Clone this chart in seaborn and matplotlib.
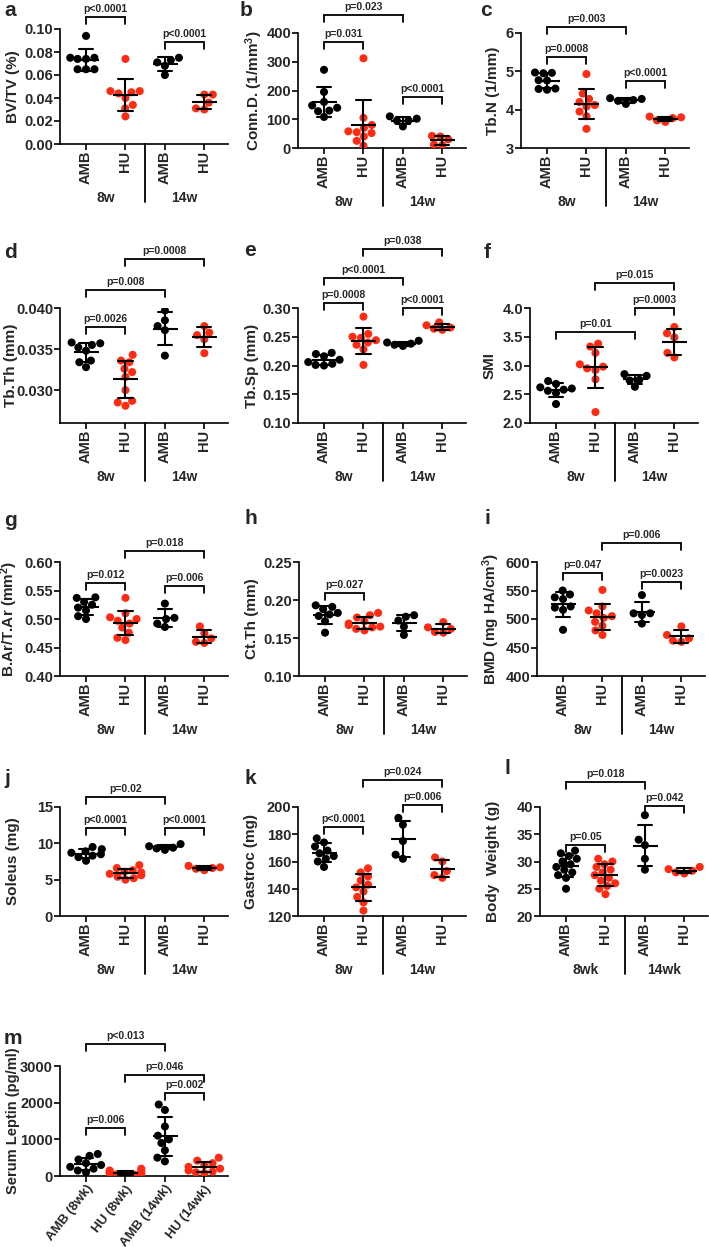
import matplotlib
matplotlib.use('Agg')
import matplotlib.pyplot as plt
import matplotlib.transforms as mtransforms
import numpy as np
import pandas as pd
import seaborn as sns

sns.set_theme(style='ticks')
plt.rcParams['font.family'] = ['Liberation Sans', 'DejaVu Sans']
plt.rcParams['font.weight'] = 'bold'
plt.rcParams['axes.labelweight'] = 'bold'
plt.rcParams['mathtext.fontset'] = 'custom'
plt.rcParams['mathtext.bf'] = 'Liberation Sans:bold'
plt.rcParams['mathtext.rm'] = 'Liberation Sans:bold'
plt.rcParams['mathtext.default'] = 'bf'

# Groupes
groups = ['AMB 8w', 'HU 8w', 'AMB 14w', 'HU 14w']
tick_labels = ['AMB', 'HU', 'AMB', 'HU']
leptin_labels = ['AMB (8wk)', 'HU (8wk)', 'AMB (14wk)', 'HU (14wk)']
RED = '#FF2A12'
palette = {'AMB 8w': 'black', 'HU 8w': RED, 'AMB 14w': 'black', 'HU 14w': RED}

# Valeurs (AMB 8w, HU 8w, AMB 14w, HU 14w)
bv_tv = [[0.094, 0.075, 0.074, 0.075, 0.074, 0.065, 0.065, 0.065],
         [0.074, 0.046, 0.045, 0.046, 0.044, 0.040, 0.034, 0.031, 0.024],
         [0.075, 0.073, 0.071, 0.068, 0.060],
         [0.043, 0.043, 0.036, 0.030, 0.031]]
conn_d = [[272, 195, 160, 148, 140, 130, 128, 108],
          [312, 105, 80, 70, 58, 55, 52, 40, 25, 8],
          [110, 102, 96, 95, 75],
          [42, 40, 30, 12, 10]]
tb_n = [[4.97, 4.95, 4.96, 4.77, 4.76, 4.55, 4.52, 4.54],
        [4.93, 4.42, 4.28, 4.20, 4.12, 4.08, 3.95, 3.83, 3.50],
        [4.30, 4.28, 4.25, 4.23, 4.15],
        [3.82, 3.80, 3.78, 3.72, 3.68]]
tb_th = [[0.0358, 0.0357, 0.0355, 0.0352, 0.0348, 0.0336, 0.0334, 0.0328],
         [0.0343, 0.0336, 0.0334, 0.0326, 0.0322, 0.0316, 0.0300, 0.0287, 0.0285, 0.0281],
         [0.0397, 0.0385, 0.0378, 0.0373, 0.0342],
         [0.0378, 0.0370, 0.0367, 0.0362, 0.0345]]
tb_sp = [[0.222, 0.220, 0.216, 0.210, 0.206, 0.203, 0.201, 0.200],
         [0.285, 0.255, 0.250, 0.248, 0.244, 0.240, 0.236, 0.228, 0.201],
         [0.243, 0.240, 0.238, 0.236, 0.234],
         [0.275, 0.270, 0.266, 0.264, 0.262]]
smi = [[2.73, 2.68, 2.62, 2.60, 2.58, 2.56, 2.52, 2.33],
       [3.38, 3.33, 3.22, 3.02, 2.98, 2.95, 2.92, 2.76, 2.19],
       [2.85, 2.82, 2.75, 2.74, 2.63],
       [3.67, 3.56, 3.49, 3.22, 3.14]]
b_ar = [[0.538, 0.537, 0.530, 0.525, 0.520, 0.515, 0.505, 0.500],
        [0.537, 0.510, 0.503, 0.500, 0.497, 0.492, 0.485, 0.476, 0.467, 0.463],
        [0.527, 0.502, 0.500, 0.492, 0.486],
        [0.487, 0.475, 0.466, 0.460, 0.458]]
ct_th = [[0.193, 0.191, 0.188, 0.183, 0.181, 0.179, 0.172, 0.157],
         [0.183, 0.180, 0.177, 0.172, 0.169, 0.167, 0.165, 0.164, 0.162, 0.160],
         [0.180, 0.178, 0.173, 0.165, 0.154],
         [0.171, 0.164, 0.162, 0.158, 0.157]]
bmd = [[550, 543, 538, 535, 522, 520, 516, 481],
       [551, 522, 515, 510, 505, 502, 495, 488, 480, 472],
       [542, 510, 510, 507, 492],
       [487, 472, 466, 462, 460]]
soleus = [[9.5, 9.2, 8.9, 8.7, 8.5, 8.3, 8.1, 7.6],
          [7.0, 6.6, 6.3, 6.1, 6.0, 5.8, 5.6, 5.4, 5.2, 5.0],
          [9.9, 9.6, 9.4, 9.3, 9.1],
          [6.9, 6.7, 6.6, 6.5, 6.3]]
gastroc = [[177, 174, 171, 168, 166, 164, 162, 160, 156],
           [155, 152, 149, 146, 143, 141, 138, 134, 130, 124],
           [192, 187, 175, 165, 162],
           [163, 160, 153, 150, 148]]
body_weight = [[32, 31.5, 31, 30.5, 30, 29.5, 29, 28.5, 28, 27.5, 27, 25],
               [30.5, 30, 29.5, 29, 28.5, 28, 27.5, 27, 26.5, 26, 25.5, 25, 24],
               [38.5, 34.0, 33.0, 30.5, 28.5],
               [29.0, 28.6, 28.3, 28.0, 27.8]]
leptin = [[600, 550, 450, 350, 300, 250, 200, 150, 100],
          [200, 150, 120, 100, 90, 80, 60, 50, 40, 30],
          [1950, 1800, 1350, 1100, 1000, 900, 700, 500, 400],
          [500, 420, 350, 300, 250, 200, 150, 120, 100, 80]]

W, H = 709, 1247
fig = plt.figure(figsize=(W / 100, H / 100), dpi=100)
fig.patch.set_facecolor('white')


def add_axes_px(left, top, bottom, width=168):
    return fig.add_axes([left / W, 1 - bottom / H, width / W, (bottom - top) / H])


def bracket(ax, i, j, level, text):
    trans = mtransforms.blended_transform_factory(ax.transData, ax.transAxes)
    h_px = ax.bbox.height
    leg = 7 / h_px
    ax.plot([i, i, j, j], [level - leg, level, level, level - leg], color='black',
            lw=1.3, transform=trans, clip_on=False, solid_joinstyle='miter')
    ax.text((i + j) / 2, level + 3 / h_px, text, transform=trans, ha='center',
            va='bottom', fontsize=7.5, fontweight='bold')


def draw_panel(letter, values, rect, ylabel, ylim, yticks, fmt, brackets,
               ylab_right, letter_xy, weeks=('8w', '14w'), leptin_style=False,
               ylab_size=11):
    ax = add_axes_px(*rect)
    df = pd.DataFrame({'group': np.repeat(groups, [len(v) for v in values]),
                       'value': np.concatenate(values)})
    sns.swarmplot(data=df, x='group', y='value', hue='group', order=groups,
                  palette=palette, size=5.8, linewidth=0, legend=False, ax=ax, zorder=3)
    sns.pointplot(data=df, x='group', y='value', order=groups, errorbar='sd',
                  capsize=0.36, color='black', marker='_', markersize=18,
                  markeredgewidth=1.5, linestyle='none',
                  err_kws={'linewidth': 1.5}, ax=ax)
    for ln in ax.lines:
        ln.set_zorder(4)
    ax.set_xlim(-0.66, 3.6)
    ax.set_ylim(*ylim)
    ax.set_yticks(yticks)
    ax.set_yticklabels([fmt.format(t) for t in yticks], fontsize=10.5, fontweight='bold')
    ax.set_xlabel('')
    ax.set_ylabel(ylabel, fontsize=ylab_size, fontweight='bold')
    # bord droit du titre d'axe, en pixels de la figure
    ax.yaxis.set_label_coords((ylab_right - rect[0]) / 168, 0.5)
    sns.despine(ax=ax)
    for s in ['left', 'bottom']:
        ax.spines[s].set_linewidth(1.2)
        ax.spines[s].set_color('black')
    ax.tick_params(axis='both', length=4, width=1.2, color='black', pad=1)
    ax.set_xticks(range(4))
    if leptin_style:
        ax.set_xticklabels(leptin_labels, rotation=52, ha='right',
                           rotation_mode='anchor', fontsize=9.5, fontweight='bold')
    else:
        ax.set_xticklabels(tick_labels, rotation=90, fontsize=10.5, fontweight='bold')
        h_px = ax.bbox.height
        trans = mtransforms.blended_transform_factory(ax.transData, ax.transAxes)
        ax.plot([1.5, 1.5], [0, -58 / h_px], color='black', lw=1.3,
                transform=trans, clip_on=False)
        ax.text(0.5, -54 / h_px, weeks[0], transform=trans, ha='center', va='center',
                fontsize=10, fontweight='bold')
        ax.text(2.5, -54 / h_px, weeks[1], transform=trans, ha='center', va='center',
                fontsize=10, fontweight='bold')
    for b in brackets:
        bracket(ax, *b)
    fig.text(letter_xy[0] / W, 1 - letter_xy[1] / H, letter, fontsize=15,
             fontweight='bold', ha='left', va='center')
    return ax


draw_panel('a', bv_tv, (60, 29, 144), 'BV/TV (%)', (0, 0.10),
           [0, 0.02, 0.04, 0.06, 0.08, 0.10], '{:.2f}',
           [(0, 1, 1.104, 'p<0.0001'), (2, 3, 0.887, 'p<0.0001')], 20, (4, 11))
draw_panel('b', conn_d, (298, 33, 148), r'Conn.D. (1/mm$^{3}$)', (0, 400),
           [0, 100, 200, 300, 400], '{:.0f}',
           [(0, 2, 1.157, 'p=0.023'), (0, 1, 0.92, 'p=0.031'), (2, 3, 0.44, 'p<0.0001')],
           265, (240, 11))
draw_panel('c', tb_n, (521, 33, 148), 'Tb.N (1/mm)', (3, 6), [3, 4, 5, 6], '{:.0f}',
           [(0, 2, 1.05, 'p=0.003'), (0, 1, 0.79, 'p=0.0008'), (2, 3, 0.58, 'p<0.0001')],
           500, (480, 11))

draw_panel('d', tb_th, (60, 308, 423), 'Tb.Th (mm)', (0.026, 0.040),
           [0.030, 0.035, 0.040], '{:.3f}',
           [(1, 3, 1.426, 'p=0.0008'), (0, 2, 1.157, 'p=0.008'), (0, 1, 0.835, 'p=0.0026')],
           18, (4, 253))
draw_panel('e', tb_sp, (298, 308, 423), 'Tb.Sp (mm)', (0.10, 0.30),
           [0.10, 0.15, 0.20, 0.25, 0.30], '{:.2f}',
           [(1, 3, 1.513, 'p=0.038'), (0, 2, 1.26, 'p<0.0001'),
            (0, 1, 1.043, 'p=0.0008'), (2, 3, 1.0, 'p<0.0001')],
           259, (244, 250))
draw_panel('f', smi, (530, 308, 423), 'SMI', (2.0, 4.0),
           [2.0, 2.5, 3.0, 3.5, 4.0], '{:.1f}',
           [(1, 3, 1.217, 'p=0.015'), (2, 3, 1.0, 'p=0.0003'), (0, 2, 0.79, 'p=0.01')],
           497, (484, 253))

draw_panel('g', b_ar, (60, 562, 676), r'B.Ar/T.Ar (mm$^{2}$)', (0.40, 0.60),
           [0.40, 0.45, 0.50, 0.55, 0.60], '{:.2f}',
           [(1, 3, 1.096, 'p=0.018'), (0, 1, 0.816, 'p=0.012'), (2, 3, 0.79, 'p=0.006')],
           20, (4, 520))
draw_panel('h', ct_th, (299, 562, 676), 'Ct.Th (mm)', (0.10, 0.25),
           [0.10, 0.15, 0.20, 0.25], '{:.2f}',
           [(0, 1, 0.728, 'p=0.027')], 259, (244, 518))
draw_panel('i', bmd, (537, 562, 676), r'BMD (mg HA/cm$^{3}$)', (400, 600),
           [400, 450, 500, 550, 600], '{:.0f}',
           [(1, 3, 1.167, 'p=0.006'), (0, 1, 0.904, 'p=0.047'), (2, 3, 0.825, 'p=0.0023')],
           502, (484, 518))

draw_panel('j', soleus, (60, 807, 916), 'Soleus (mg)', (0, 15), [0, 5, 10, 15], '{:.0f}',
           [(0, 2, 1.09, 'p=0.02'), (0, 1, 0.807, 'p<0.0001'), (2, 3, 0.807, 'p<0.0001')],
           20, (4, 778))
draw_panel('k', gastroc, (298, 807, 916), 'Gastroc (mg)', (120, 200),
           [120, 140, 160, 180, 200], '{:.0f}',
           [(1, 3, 1.248, 'p=0.024'), (0, 1, 0.817, 'p<0.0001'), (2, 3, 1.018, 'p=0.006')],
           258, (244, 778))
draw_panel('l', body_weight, (540, 807, 916), 'Body  Weight (g)', (20, 40),
           [20, 25, 30, 35, 40], '{:.0f}',
           [(0, 2, 1.23, 'p=0.018'), (2, 3, 1.01, 'p=0.042'), (0, 1, 0.65, 'p=0.05')],
           500, (504, 768), weeks=('8wk', '14wk'))

draw_panel('m', leptin, (60, 1066, 1176), 'Serum Leptin (pg/ml)', (0, 3000),
           [0, 1000, 2000, 3000], '{:.0f}',
           [(0, 2, 1.2, 'p<0.013'), (1, 3, 0.918, 'p=0.046'),
            (2, 3, 0.755, 'p=0.002'), (0, 1, 0.436, 'p=0.006')],
           20, (4, 1038), leptin_style=True, ylab_size=10.5)

fig.savefig('out.png', dpi=100, facecolor='white')
